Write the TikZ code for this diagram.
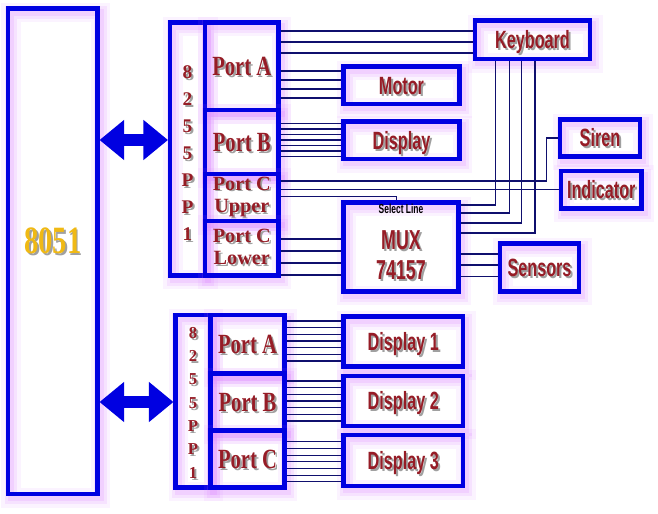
\documentclass[tikz,border=0pt]{standalone}
\usepackage{fontspec}
\setmainfont{Liberation Serif}
\newfontfamily\portfont[FakeStretch=0.74]{Liberation Serif}
\newfontfamily\condfont[FakeStretch=0.65]{Liberation Sans}
\usetikzlibrary{arrows.meta,shadows}
\definecolor{boxblue}{RGB}{0,0,225}
\definecolor{wirec}{RGB}{15,15,110}
\definecolor{txtred}{RGB}{150,28,38}
\definecolor{goldc}{RGB}{240,185,20}
\definecolor{glowc}{RGB}{215,110,255}
\definecolor{shgray}{RGB}{160,160,160}
\newcommand\shd[1]{\leavevmode\rlap{\kern1.1pt\raisebox{-1.1pt}{\textcolor{shgray}{#1}}}#1}
\begin{document}
\begin{tikzpicture}[x=0.02cm,y=-0.02cm,
  glow/.style={
    general shadow={shadow xshift=1.7pt, shadow yshift=-2.3pt, draw=glowc, draw opacity=0.08, line width=11pt},
    general shadow={shadow xshift=1.7pt, shadow yshift=-2.3pt, draw=glowc, draw opacity=0.12, line width=7pt},
    general shadow={shadow xshift=1.7pt, shadow yshift=-2.3pt, draw=glowc, draw opacity=0.15, line width=3.5pt}},
  box/.style={rectangle, draw=boxblue, line width=2.3pt, inner sep=0pt, glow},
  corners/.style args={#1/#2/#3/#4}{minimum width={(#3-#1)*0.02cm}, minimum height={(#4-#2)*0.02cm},
    at={({(#1+#3)/2},{(#2+#4)/2})}},
  wire/.style={draw=wirec, line width=0.6pt},
  bigarrow/.style={draw=boxblue, line width=6.8pt,
    {Triangle[length=14pt,width=22pt]}-{Triangle[length=14pt,width=22pt]}},
  portA/.style={font={\portfont\bfseries\fontsize{15.8}{18}\selectfont}, text=txtred,
    text height=10.4pt, text depth=0pt},
  portC/.style={font={\bfseries\fontsize{11.5}{12.6}\selectfont}, text=txtred, align=center},
  dev/.style={font={\condfont\bfseries\fontsize{14.2}{16}\selectfont}, text=txtred,
    text height=10.2pt, text depth=0pt},
  digitsA/.style={font={\bfseries\fontsize{11}{15.4}\selectfont}, text=txtred, align=center},
  digitsB/.style={font={\bfseries\fontsize{9.5}{13.3}\selectfont}, text=txtred, align=center},
  goldtxt/.style={font={\portfont\bfseries\fontsize{22}{24}\selectfont}, text=goldc, inner sep=0pt},
  seltxt/.style={font={\condfont\bfseries\fontsize{7.4}{8}\selectfont}, text=black, inner sep=0pt},
  muxtxt/.style={font={\condfont\bfseries\fontsize{15.6}{17}\selectfont}, text=txtred, inner sep=0pt}
]
\fill[white] (0,0) rectangle (658,513);
\useasboundingbox (0,0) rectangle (658,513);

% 8051
\node[box, corners=8/8.5/97.5/494] (mcu) {};
\node[goldtxt] (mcutxt) at ([yshift=5.2pt]mcu.center) {\shd{8051}};

% upper 8255
\node[box, digitsA, corners=170/22.5/205/275.5] (ppi1) {\rule{0pt}{13pt}\shd{8}\\\shd{2}\\\shd{5}\\\shd{5}\\\shd{P}\\\shd{P}\\\shd{1}};
\node[box, portA, corners=205/22.5/278.5/110] (pA) {\shd{Port A}};
\node[box, portA, corners=205/110/278.5/174] (pB) {\shd{Port B}};
\node[box, portC, corners=205/174/278.5/221] (pCu) {\shd{Port C}\\\shd{Upper}};
\node[box, portC, corners=205/221/278.5/275.5] (pCl) {\shd{Port C}\\\shd{Lower}};

% lower 8255
\node[box, digitsB, corners=175.5/315/210.5/487.5] (ppi2) {\rule{0pt}{9pt}\shd{8}\\\shd{2}\\\shd{5}\\\shd{5}\\\shd{P}\\\shd{P}\\\shd{1}};
\node[box, portA, corners=210.5/315/284.5/373.5] (qA) {\shd{Port A}};
\node[box, portA, corners=210.5/373.5/284.5/430.5] (qB) {\shd{Port B}};
\node[box, portA, corners=210.5/430.5/284.5/487.5] (qC) {\shd{Port C}};

% devices
\node[box, dev, corners=475/20.5/590/59] (kb) {\shd{Keyboard}};
\node[box, dev, corners=343.5/66.5/459.5/104] (motor) {\shd{Motor}};
\node[box, dev, corners=343.5/121.5/459.5/159] (disp) {\shd{Display}};
\node[box, dev, corners=560/119.5/640/156.5] (siren) {\shd{Siren}};
\node[box, dev, corners=561/171/641.5/208.5] (ind) {\shd{Indicator}};
\node[box, corners=343.5/202.5/458.5/291.5] (mux) {};
\node[seltxt] (muxsel) at ([yshift=-4.8pt]mux.north) {Select Line};
\node[muxtxt] (muxname) at ([yshift=-23pt]mux.north) {\shd{MUX}};
\node[muxtxt] (muxnum) at ([yshift=-40pt]mux.north) {\shd{74157}};
\node[box, dev, corners=500/243.5/579/291.5] (sens) {\shd{Sensors}};
\node[box, dev, corners=343.5/316.5/463/366.5] (d1) {\shd{Display 1}};
\node[box, dev, corners=343.5/375.7/463/425.7] (d2) {\shd{Display 2}};
\node[box, dev, corners=343.5/435/463/486] (d3) {\shd{Display 3}};

% bus arrows
\draw[bigarrow] (mcu.east |- 0,140) -- (ppi1.west |- 0,140);
\draw[bigarrow] (mcu.east |- 0,402) -- (ppi2.west |- 0,402);

% upper wiring
\foreach \y in {31,42,53} \draw[wire] (pA.east |- 0,\y) -- (kb.west |- 0,\y);
\foreach \y in {71,80,89,98} \draw[wire] (pA.east |- 0,\y) -- (motor.west |- 0,\y);
\foreach \i [evaluate=\i as \yy using 123.5+\i*5.5] in {0,...,6}
  \draw[wire] (pB.east |- 0,\yy) -- (disp.west |- 0,\yy);
\draw[wire] (pCu.east |- 0,181) -| ([xshift=-6.8pt]siren.west) -- (siren.west);
\draw[wire] (pCu.east |- ind.west) -- (ind.west);
\draw[wire] (pCu.east |- 0,196.5) -| ([xshift=-2.3pt]mux.north);
\foreach \y in {239,251,263,275} \draw[wire] (pCl.east |- 0,\y) -- (mux.west |- 0,\y);
\foreach \x/\y in {495.5/205, 509.3/213, 521.7/223, 535/233}
  \draw[wire] (kb.south -| \x,0) |- (mux.east |- 0,\y);
\foreach \y in {254,265,276.5} \draw[wire] (mux.east |- 0,\y) -- (sens.west |- 0,\y);

% lower wiring
\foreach \i [evaluate=\i as \yy using 321+\i*6.67] in {0,...,6}
  \draw[wire] (qA.east |- 0,\yy) -- (d1.west |- 0,\yy);
\foreach \i [evaluate=\i as \yy using 381+\i*6.67] in {0,...,6}
  \draw[wire] (qB.east |- 0,\yy) -- (d2.west |- 0,\yy);
\foreach \i [evaluate=\i as \yy using 441.7+\i*6.67] in {0,...,6}
  \draw[wire] (qC.east |- 0,\yy) -- (d3.west |- 0,\yy);
\end{tikzpicture}
\end{document}
